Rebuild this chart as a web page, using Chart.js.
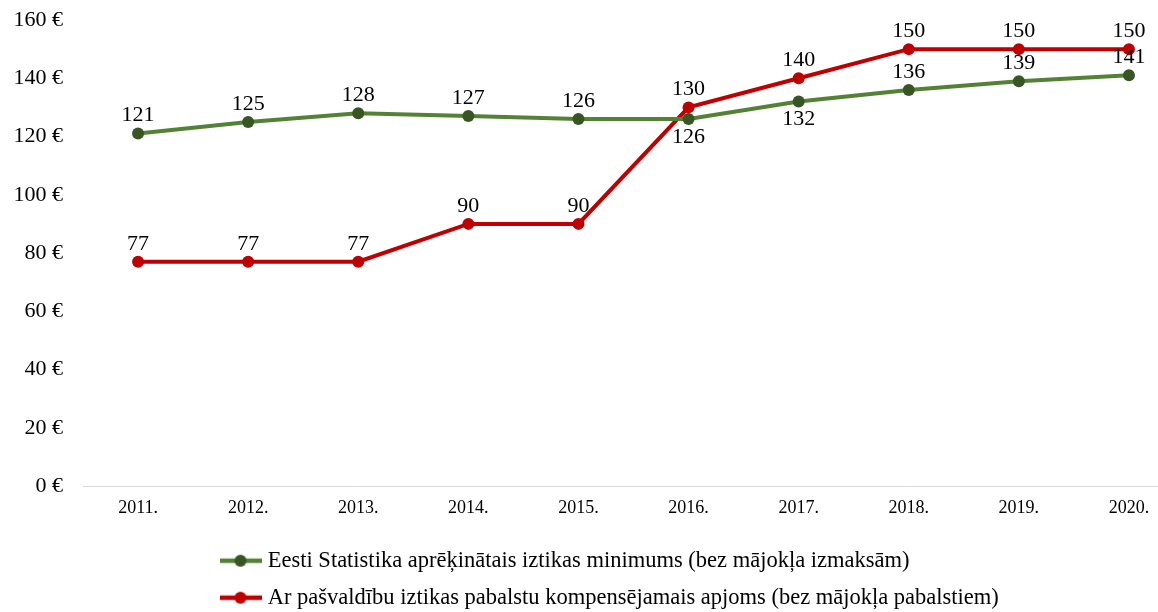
<!DOCTYPE html>
<html>
<head>
<meta charset="utf-8">
<script src="https://cdn.jsdelivr.net/npm/chart.js@4"></script>
<style>
  html, body { margin: 0; padding: 0; background: #fff; overflow: hidden; }
</style>
</head>
<body>
<canvas id="grafiks" width="1190" height="619"></canvas>
<script>
const years = ["2011.", "2012.", "2013.", "2014.", "2015.", "2016.", "2017.", "2018.", "2019.", "2020."];
const minimums = [121, 125, 128, 127, 126, 126, 132, 136, 139, 141];
const pabalsts = [77, 77, 77, 90, 90, 130, 140, 150, 150, 150];
const seriesNames = [
    "Eesti Statistika aprēķinātais iztikas minimums (bez mājokļa izmaksām)",
    "Ar pašvaldību iztikas pabalstu kompensējamais apjoms (bez mājokļa pabalstiem)"
];
// indeksi, kur zaļās līnijas vērtība rakstīta zem punkta
const greenBelow = [5, 6];

const fonts = "'Liberation Serif', 'Times New Roman', serif";

// leģendas ikona: līnija ar punktu
function legendIcon(lineColor, dotColor) {
    const c = document.createElement("canvas");
    c.width = 42; c.height = 14;
    const g = c.getContext("2d");
    g.strokeStyle = lineColor;
    g.lineWidth = 4.5;
    g.beginPath(); g.moveTo(0, 7); g.lineTo(42, 7); g.stroke();
    g.fillStyle = dotColor;
    g.beginPath(); g.arc(21, 7, 6, 0, Math.PI * 2); g.fill();
    return c;
}
const icons = [legendIcon("#548235", "#375623"), legendIcon("#C00000", "#C00000")];

const valueLabels = {
    id: "valueLabels",
    afterDatasetsDraw(chart) {
        const ctx = chart.ctx;
        ctx.save();
        ctx.font = "22px " + fonts;
        ctx.fillStyle = "#000";
        ctx.textAlign = "center";
        ctx.textBaseline = "middle";
        chart.data.datasets.forEach((ds, di) => {
            chart.getDatasetMeta(di).data.forEach((pt, i) => {
                let dy = -18;
                if (di === 0 && greenBelow.includes(i)) dy = 18;
                ctx.fillText(String(ds.data[i]), pt.x, pt.y + dy);
            });
        });
        ctx.restore();
    }
};

// leģenda kreisajā pusē zem grafika, rindas vienā līnijā
const legendShift = {
    id: "legendShift",
    afterLayout(chart) {
        if (chart.legend) chart.legend.left = 210;
    }
};

new Chart(document.getElementById("grafiks"), {
    type: "line",
    data: {
        labels: years,
        datasets: [{
            label: seriesNames[0],
            data: minimums,
            borderColor: "#548235",
            backgroundColor: "#375623",
            pointBackgroundColor: "#375623",
            pointBorderColor: "#375623",
            borderWidth: 4,
            pointRadius: 6,
            pointBorderWidth: 0,
            tension: 0
        }, {
            label: seriesNames[1],
            data: pabalsts,
            borderColor: "#C00000",
            backgroundColor: "#C00000",
            pointBackgroundColor: "#C00000",
            pointBorderColor: "#C00000",
            borderWidth: 4,
            pointRadius: 6,
            pointBorderWidth: 0,
            tension: 0
        }]
    },
    options: {
        responsive: false,
        animation: false,
        events: [],
        layout: { padding: { top: 20, right: 0, left: 0, bottom: 0 } },
        scales: {
            x: {
                offset: true,
                grid: { display: false, drawTicks: false },
                border: { display: true, color: "#d9d9d9", width: 1 },
                ticks: { color: "#000", font: { family: fonts, size: 18 }, padding: 11 },
                afterFit(scale) { scale.height = 49; }
            },
            y: {
                min: 0,
                max: 160,
                grid: { display: false, drawTicks: false },
                border: { display: false },
                ticks: {
                    stepSize: 20,
                    color: "#000",
                    padding: 20,
                    font: { family: fonts, size: 22 },
                    callback: v => v + " €"
                },
                afterFit(scale) {
                    scale.width = 83;
                    scale.paddingTop = 0;
                    scale.paddingBottom = 0;
                }
            }
        },
        plugins: {
            tooltip: { enabled: false },
            legend: {
                position: "bottom",
                align: "start",
                labels: {
                    color: "#000",
                    font: { family: fonts, size: 22.5 },
                    usePointStyle: true,
                    pointStyleWidth: 32,
                    padding: 14.5,
                    generateLabels(chart) {
                        const items = Chart.defaults.plugins.legend.labels.generateLabels(chart);
                        items.forEach((it, i) => { it.pointStyle = icons[i]; });
                        return items;
                    }
                }
            }
        }
    },
    plugins: [valueLabels, legendShift]
});
</script>
</body>
</html>
